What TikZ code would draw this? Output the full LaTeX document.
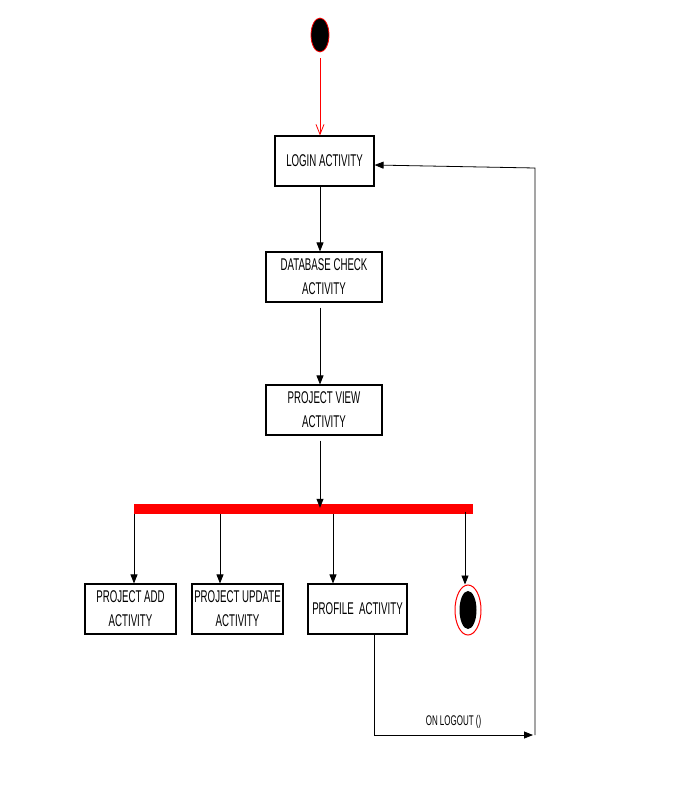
\documentclass[tikz,border=0pt]{standalone}
\usepackage{fontspec}
\setmainfont{Liberation Sans}[FakeStretch=0.57]
\usetikzlibrary{arrows.meta,shapes.geometric}
\definecolor{forkred}{RGB}{255,0,0}
\begin{document}
\begin{tikzpicture}[x=1pt,y=-1pt,
  actbox/.style={draw=black,line width=1.1pt,fill=white,minimum height=50pt,
    align=center,font=\fontsize{17}{24}\selectfont,inner sep=2pt},
  flow/.style={-{Triangle[length=9pt,width=7pt]},line width=0.8pt,black},
  startflow/.style={-{Straight Barb[length=10pt,width=8pt]},line width=0.8pt,forkred}]
\useasboundingbox (0,0) rectangle (675,787);
% initial state
\node[ellipse,draw=forkred,fill=black,line width=0.8pt,minimum width=18pt,minimum height=34pt,inner sep=0pt] (start) at (320,35) {};
% activities
\node[actbox,minimum width=99pt] (login) at (324.5,161) {LOGIN ACTIVITY};
\node[actbox,minimum width=116pt] (db) at (324,277) {DATABASE CHECK\\ACTIVITY};
\node[actbox,minimum width=116pt] (view) at (324,410) {PROJECT VIEW\\ACTIVITY};
% fork bar
\node[rectangle,fill=forkred,minimum width=339pt,minimum height=10pt,inner sep=0pt] (fork) at (303.5,509) {};
\node[actbox,minimum width=91pt] (add) at (130.5,609) {PROJECT ADD\\ACTIVITY};
\node[actbox,minimum width=91pt] (upd) at (237.5,609) {PROJECT UPDATE\\ACTIVITY};
\node[actbox,minimum width=99pt] (prof) at (357.5,609) {PROFILE\ \ ACTIVITY};
% final state
\node[ellipse,draw=forkred,fill=white,line width=1pt,minimum width=26pt,minimum height=50pt,inner sep=0pt] (final) at (468,610) {};
\node[ellipse,fill=black,minimum width=17pt,minimum height=38pt,inner sep=0pt] at (final.center) {};
% transitions
\draw[startflow] (start.south) ++(0,6) -- (login.north -| start.south);
\draw[flow] (login.south -| start.south) -- (db.north -| start.south);
\draw[flow] ([yshift=-5pt]db.south -| start.south) -- (view.north -| start.south);
\draw[flow] ([yshift=-5pt]view.south -| start.south) -- ([yshift=-4pt]fork.north -| start.south);
\draw[flow] (fork.south -| 134,0) -- (add.north -| 134,0);
\draw[flow] (fork.south -| 220,0) -- (upd.north -| 220,0);
\draw[flow] (fork.south -| 333,0) -- (prof.north -| 333,0);
\draw[flow] ([yshift=2pt]fork.south -| 465,0) -- (final.north -| 465,0);
% logout loop back to login
\coordinate (turn) at (374,735);
\coordinate (rcorner) at (535,735);
\coordinate (top) at (535,168);
\draw[flow] (prof.south -| turn) -- (turn) -- ([xshift=-2pt]rcorner)
  node[midway,above=3pt,black,font=\fontsize{14}{16}\selectfont] {ON LOGOUT ()};
\draw[flow] (rcorner) -- (top) -- (login.east |- 0,165);
\end{tikzpicture}
\end{document}
